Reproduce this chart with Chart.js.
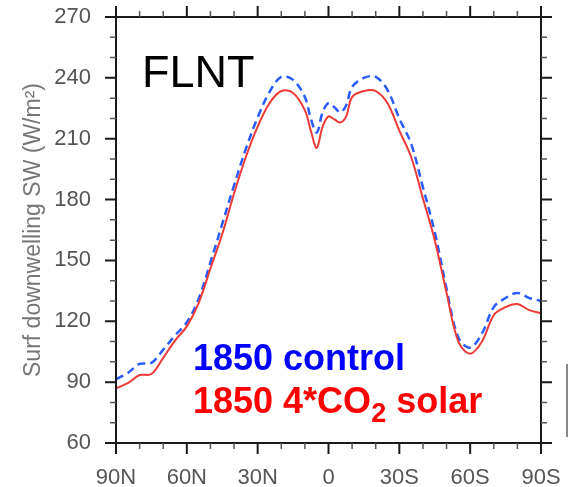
<!DOCTYPE html>
<html lang="en">
  <head>
    <meta charset="UTF-8" />
    <title>FLNT</title>
    <script src="https://cdn.jsdelivr.net/npm/chart.js@4/dist/chart.umd.min.js"></script>
    <style>
      body {
        margin: 0;
        padding: 0;
        background: #ffffff;
        font-family: "Liberation Sans", Arial, sans-serif;
      }

      .wrap {
        position: relative;
        width: 571px;
        height: 487px;
      }

      .label {
        position: absolute;
        line-height: 1;
        white-space: nowrap;
      }

      .panel {
        left: 142px;
        top: 49px;
        font-size: 45px;
        color: #000000;
      }

      .ctl {
        left: 193px;
        top: 340px;
        font-size: 36px;
        font-weight: bold;
        color: #0000ff;
      }

      .co2 {
        left: 193px;
        top: 383px;
        font-size: 36px;
        font-weight: bold;
        color: #ff0000;
      }

      .co2 sub {
        font-size: 27px;
        vertical-align: baseline;
        position: relative;
        top: 9px;
      }
    </style>
  </head>
  <body>
    <div class="wrap">
      <canvas id="chart" width="571" height="487"></canvas>
      <div class="label panel">FLNT</div>
      <div class="label ctl">1850 control</div>
      <div class="label co2">1850 4*CO<sub>2</sub> solar</div>
    </div>
    <script>
      // latitude, positive = N
      const lats = [
        90, 85, 80, 75, 70, 65, 60, 55, 50, 45, 40, 35, 30, 25, 20, 15, 10,
        7.5, 5, 2.5, 0, -2.5, -5, -7.5, -10, -15, -20, -25, -30, -35, -40,
        -45, -50, -55, -60, -65, -70, -75, -80, -85, -90,
      ];
      const control = [
        91.5, 94.5, 99, 99.5, 106, 113, 119.5, 131, 149, 168, 187, 205,
        220.5, 233, 240.5, 239, 230.5, 220, 213, 223, 227.5, 225.5, 223,
        226.5, 235.5, 240, 240.5, 234, 220, 207.5, 186, 164, 136, 112, 107,
        114, 127, 131.5, 134, 131.5, 130,
      ];
      const solar = [
        87, 89.5, 93.5, 94, 102, 110.5, 117.5, 129, 146, 163, 183, 201, 216,
        227.5, 233.5, 232.5, 224, 214, 205.5, 216, 221, 219.5, 218, 221,
        230.5, 233.5, 233.5, 227.5, 214, 201, 180.5, 160, 134, 110, 104,
        110, 123, 127, 128.5, 125.5, 124,
      ];
      const xTicks = [90, 60, 30, 0, -30, -60, -90];
      const yTicks = [60, 90, 120, 150, 180, 210, 240, 270];

      function latLabel(v) {
        if (v > 0) return v + "N";
        if (v < 0) return -v + "S";
        return "0";
      }

      // frame + outward major/minor ticks on all four sides
      const frameTicks = {
        id: "frameTicks",
        afterDraw(chart) {
          const ctx = chart.ctx;
          const a = chart.chartArea;
          const xs = chart.scales.x;
          const ys = chart.scales.y;
          ctx.save();
          ctx.strokeStyle = "#1a1a1a";
          ctx.lineWidth = 2;
          ctx.strokeRect(a.left, a.top, a.right - a.left, a.bottom - a.top);

          for (let v = -90; v <= 90; v += 10) {
            const major = v % 30 === 0;
            const len = major ? 11 : 6;
            const px = xs.getPixelForValue(v);
            ctx.lineWidth = major ? 2 : 1.5;
            ctx.strokeStyle = major ? "#1a1a1a" : "#555";
            ctx.beginPath();
            ctx.moveTo(px, a.bottom);
            ctx.lineTo(px, a.bottom + len);
            ctx.moveTo(px, a.top);
            ctx.lineTo(px, a.top - len);
            ctx.stroke();
          }
          for (let v = 60; v <= 270; v += 10) {
            const major = (v - 60) % 30 === 0;
            const len = major ? 11 : 6;
            const py = ys.getPixelForValue(v);
            ctx.lineWidth = major ? 2 : 1.5;
            ctx.strokeStyle = major ? "#1a1a1a" : "#555";
            ctx.beginPath();
            ctx.moveTo(a.left, py);
            ctx.lineTo(a.left - len, py);
            ctx.moveTo(a.right, py);
            ctx.lineTo(a.right + len, py);
            ctx.stroke();
          }

          // stray gray bar at the right edge of the figure
          ctx.strokeStyle = "#888";
          ctx.lineWidth = 2;
          ctx.beginPath();
          ctx.moveTo(567, 364);
          ctx.lineTo(567, 437);
          ctx.stroke();
          ctx.restore();
        },
      };

      const ctx = document.getElementById("chart").getContext("2d");
      new Chart(ctx, {
        type: "line",
        data: {
          datasets: [
            {
              label: "1850 4*CO2 solar",
              data: lats.map((lat, i) => ({ x: lat, y: solar[i] })),
              borderColor: "#ee3a36",
              borderWidth: 2,
              pointRadius: 0,
              tension: 0.35,
            },
            {
              label: "1850 control",
              data: lats.map((lat, i) => ({ x: lat, y: control[i] })),
              borderColor: "#2b5cff",
              borderWidth: 2.5,
              borderDash: [8, 5],
              pointRadius: 0,
              tension: 0.35,
            },
          ],
        },
        options: {
          responsive: false,
          animation: false,
          layout: { padding: { top: 17, right: 30, left: 0, bottom: 0 } },
          plugins: {
            legend: { display: false },
            tooltip: { enabled: false },
          },
          scales: {
            x: {
              type: "linear",
              reverse: true,
              min: -90,
              max: 90,
              afterFit: (s) => {
                s.height = 44;
              },
              afterBuildTicks: (s) => {
                s.ticks = xTicks.map((v) => ({ value: v }));
              },
              grid: {
                drawOnChartArea: false,
                drawTicks: true,
                tickLength: 22,
                tickColor: "rgba(0,0,0,0)",
              },
              border: { display: false },
              ticks: {
                padding: 0,
                maxRotation: 0,
                autoSkip: false,
                color: "#555",
                font: { family: "'Liberation Sans', Arial", size: 22 },
                callback: (v) => latLabel(v),
              },
            },
            y: {
              min: 60,
              max: 270,
              afterFit: (s) => {
                s.width = 116;
              },
              afterBuildTicks: (s) => {
                s.ticks = yTicks.map((v) => ({ value: v }));
              },
              grid: {
                drawOnChartArea: false,
                drawTicks: true,
                tickLength: 25,
                tickColor: "rgba(0,0,0,0)",
              },
              border: { display: false },
              ticks: {
                padding: 0,
                color: "#555",
                font: { family: "'Liberation Sans', Arial", size: 22 },
              },
              title: {
                display: true,
                text: "Surf downwelling SW (W/m²)",
                color: "#777",
                padding: { top: 20, bottom: 0 },
                font: { family: "'Liberation Sans', Arial", size: 23 },
              },
            },
          },
        },
        plugins: [frameTicks],
      });
    </script>
  </body>
</html>
